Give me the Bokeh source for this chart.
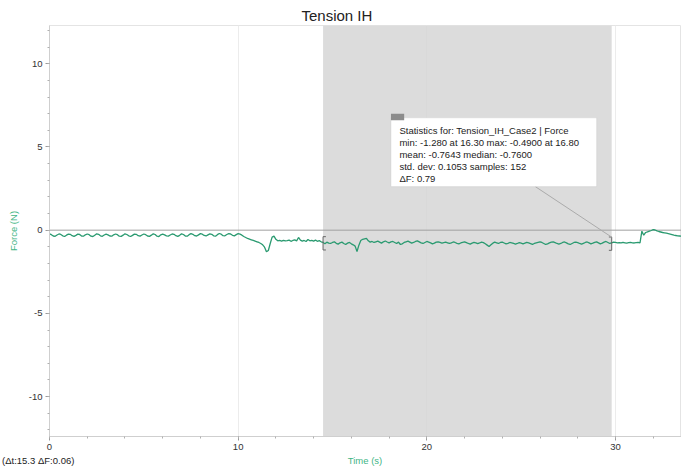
import numpy as np
from bokeh.plotting import figure
from bokeh.layouts import column
from bokeh.models import (BoxAnnotation, Span, Label, Range1d, SingleIntervalTicker, Title,
                          PrintfTickFormatter, Div)
from bokeh.embed import file_html
from bokeh.resources import INLINE

# Force sensor trace, sampled at 10 Hz (one row per second)
force_n = [
    -0.22, -0.27, -0.35, -0.37, -0.29, -0.23, -0.26, -0.34, -0.38, -0.30,
    -0.24, -0.25, -0.33, -0.37, -0.31, -0.24, -0.26, -0.35, -0.36, -0.28,
    -0.23, -0.27, -0.36, -0.38, -0.30, -0.22, -0.25, -0.34, -0.37, -0.29,
    -0.24, -0.28, -0.35, -0.36, -0.28, -0.23, -0.27, -0.36, -0.37, -0.30,
    -0.22, -0.26, -0.34, -0.38, -0.31, -0.24, -0.25, -0.33, -0.36, -0.29,
    -0.23, -0.27, -0.35, -0.37, -0.30, -0.22, -0.26, -0.36, -0.38, -0.28,
    -0.24, -0.28, -0.34, -0.36, -0.29, -0.23, -0.25, -0.33, -0.37, -0.31,
    -0.22, -0.26, -0.35, -0.36, -0.27, -0.21, -0.25, -0.33, -0.35, -0.28,
    -0.21, -0.24, -0.32, -0.35, -0.28, -0.22, -0.25, -0.34, -0.36, -0.27,
    -0.20, -0.24, -0.33, -0.34, -0.26, -0.21, -0.23, -0.31, -0.34, -0.27,
    -0.21, -0.24, -0.30, -0.38, -0.44, -0.50, -0.54, -0.58, -0.62, -0.66,
    -0.70, -0.74, -0.80, -0.88, -1.02, -1.30, -1.22, -0.80, -0.42, -0.36,
    -0.55, -0.64, -0.62, -0.66, -0.61, -0.65, -0.63, -0.60, -0.67, -0.62,
    -0.58, -0.64, -0.44, -0.60, -0.66, -0.62, -0.68, -0.56, -0.64, -0.61,
    -0.66, -0.60, -0.67, -0.63, -0.70, -0.74, -0.82, -0.72, -0.78, -0.80,
    -0.74, -0.70, -0.79, -0.84, -0.76, -0.72, -0.80, -0.86, -0.78, -0.74,
    -0.82, -0.88, -0.96, -1.28, -0.90, -0.62, -0.55, -0.52, -0.49, -0.64,
    -0.72, -0.68, -0.74, -0.70, -0.66, -0.72, -0.78, -0.70, -0.65, -0.71,
    -0.76, -0.70, -0.68, -0.74, -0.80, -0.72, -0.86, -0.82, -0.74, -0.70,
    -0.66, -0.72, -0.78, -0.74, -0.68, -0.64, -0.70, -0.76, -0.80, -0.74,
    -0.68, -0.72, -0.76, -0.82, -0.78, -0.72, -0.70, -0.74, -0.78, -0.75,
    -0.72, -0.76, -0.80, -0.76, -0.71, -0.74, -0.79, -0.82, -0.77, -0.73,
    -0.70, -0.75, -0.80, -0.84, -0.78, -0.74, -0.76, -0.81, -0.77, -0.72,
    -0.75, -0.82, -0.90, -0.98, -0.88, -0.78, -0.72, -0.76, -0.80, -0.74,
    -0.72, -0.77, -0.82, -0.79, -0.74, -0.76, -0.80, -0.84, -0.80, -0.75,
    -0.78, -0.82, -0.78, -0.74, -0.77, -0.81, -0.85, -0.80, -0.76, -0.73,
    -0.70, -0.74, -0.80, -0.86, -0.82, -0.76, -0.72, -0.70, -0.75, -0.80,
    -0.84, -0.80, -0.74, -0.71, -0.76, -0.82, -0.86, -0.80, -0.74, -0.72,
    -0.75, -0.80, -0.84, -0.79, -0.74, -0.71, -0.76, -0.82, -0.78, -0.73,
    -0.70, -0.76, -0.82, -0.78, -0.72, -0.68, -0.74, -0.80, -0.76, -0.72,
    -0.74, -0.76, -0.75, -0.77, -0.74, -0.76, -0.78, -0.75, -0.74, -0.76,
    -0.77, -0.75, -0.74, -0.76, -0.06, -0.30, -0.14, -0.10, -0.06, -0.02,
    0.03, 0.01, -0.04, -0.08, -0.11, -0.14, -0.16, -0.18, -0.21, -0.24,
    -0.27, -0.30, -0.32, -0.34, -0.35, -0.36,
]
sample_period_s = 0.1
time_s = np.round(np.arange(len(force_n)) * sample_period_s, 1)

# Selected interval and its statistics
selection_s = (14.5, 29.8)
stats_lines = [
    "Statistics for: Tension_IH_Case2 | Force",
    "min: -1.280 at 16.30 max: -0.4900 at 16.80",
    "mean: -0.7643 median: -0.7600",
    "std. dev: 0.1053 samples: 152",
    "\u0394F: 0.79",
]
delta_text = "(\u0394t:15.3 \u0394F:0.06)"
x_title = "Time (s)"
y_title = "Force (N)"

FONT = "Liberation Sans"
GREEN = "#2a9a70"
LABEL_GREEN = "#3fb585"

W = 681
MAIN_H = 453
STRIP_H = 14
LEFT = 49
T_MAX = 33.5

p = figure(width=W, height=MAIN_H, output_backend="svg", toolbar_location=None,
           x_range=Range1d(0, T_MAX), y_range=Range1d(-12.4, 12.3),
           min_border_left=LEFT, min_border_right=0, min_border_top=25, min_border_bottom=17)
p.title = Title(text="Tension IH", align="left", offset=252, text_font=FONT,
                text_font_size="15px", text_font_style="normal", text_color="#222222",
                vertical_align="top", standoff=0)
p.outline_line_color = "#e4e4e4"

# axes
p.xaxis.ticker = SingleIntervalTicker(interval=10, num_minor_ticks=5)
p.yaxis.ticker = SingleIntervalTicker(interval=5, num_minor_ticks=5)
for ax in (p.xaxis[0], p.yaxis[0]):
    ax.formatter = PrintfTickFormatter(format="%d")
    ax.axis_line_color = "#cfcfcf"
    ax.major_tick_line_color = "#9a9a9a"
    ax.minor_tick_line_color = "#b0b0b0"
    ax.major_tick_out = 4
    ax.major_tick_in = 0
    ax.minor_tick_out = 2
    ax.minor_tick_in = 0
    ax.major_label_text_font = FONT
    ax.major_label_text_font_size = "9.5px"
    ax.major_label_text_color = "#333333"
    ax.axis_label_text_font = FONT
    ax.axis_label_text_font_size = "9.5px"
    ax.axis_label_text_font_style = "normal"
    ax.axis_label_text_color = LABEL_GREEN
p.yaxis.axis_label = y_title
p.xaxis.major_label_standoff = 3
p.yaxis.major_label_standoff = 3
p.yaxis.axis_label_standoff = 7

p.xgrid.grid_line_color = "#ececec"
p.ygrid.grid_line_color = None

# selection shading
p.add_layout(BoxAnnotation(left=selection_s[0], right=selection_s[1],
                           fill_color="#d6d6d6", fill_alpha=0.85,
                           line_color=None, level="underlay"))
p.add_layout(Span(location=0, dimension="width", line_color="#a0a0a0",
                  line_width=1, level="underlay"))

p.line(time_s, force_n, line_color=GREEN, line_width=1.3)

# selection brackets on the trace
for edge, sign in ((selection_s[0], 1), (selection_s[1], -1)):
    i = int(round(edge / sample_period_s))
    yc = force_n[min(i, len(force_n) - 1)]
    p.segment(x0=[edge], y0=[yc + 0.35], x1=[edge], y1=[yc - 0.45],
              line_color="#666666", line_width=1)
    p.segment(x0=[edge, edge], y0=[yc + 0.35, yc - 0.45],
              x1=[edge + sign * 0.15, edge + sign * 0.15], y1=[yc + 0.35, yc - 0.45],
              line_color="#666666", line_width=1)

# statistics callout
box_l, box_r, box_t, box_b = 18.1, 29.0, 6.75, 2.62
p.segment(x0=[25.75], y0=[box_b], x1=[selection_s[1]], y1=[-0.42],
          line_color="#ababab", line_width=1)
p.add_layout(BoxAnnotation(left=box_l, right=box_r, top=box_t, bottom=box_b,
                           fill_color="white", fill_alpha=1.0,
                           line_color="#c4c4c4", line_width=1))
p.add_layout(BoxAnnotation(left=box_l, right=box_l + 0.7, top=box_t + 0.25, bottom=box_t - 0.15,
                           fill_color="#8c8c8c", fill_alpha=1.0, line_color=None))
for k, line in enumerate(stats_lines):
    p.add_layout(Label(x=box_l + 0.45, y=box_t - 0.75 - k * 0.73, text=line,
                       text_font=FONT, text_font_size="9.5px", text_color="#222222",
                       text_baseline="middle", text_align="left"))

# strip under the plot: interval readout on the left, axis title under the frame centre
frame_centre = LEFT + (W - LEFT) / 2
strip_html = (
    f'<div style="position:relative;width:{W}px;height:{STRIP_H}px;'
    f'font-family:\'{FONT}\';font-size:9.5px;line-height:11px;white-space:nowrap;">'
    f'<span style="position:absolute;left:2px;top:2px;color:#222222;">{delta_text}</span>'
    f'<span style="position:absolute;left:{frame_centre}px;top:2px;'
    f'transform:translateX(-50%);color:{LABEL_GREEN};">{x_title}</span>'
    f'</div>'
)
strip = Div(text=strip_html, width=W, height=STRIP_H, margin=0)

layout = column(p, strip, spacing=0)
open("out.html", "w").write(file_html(layout, INLINE))
